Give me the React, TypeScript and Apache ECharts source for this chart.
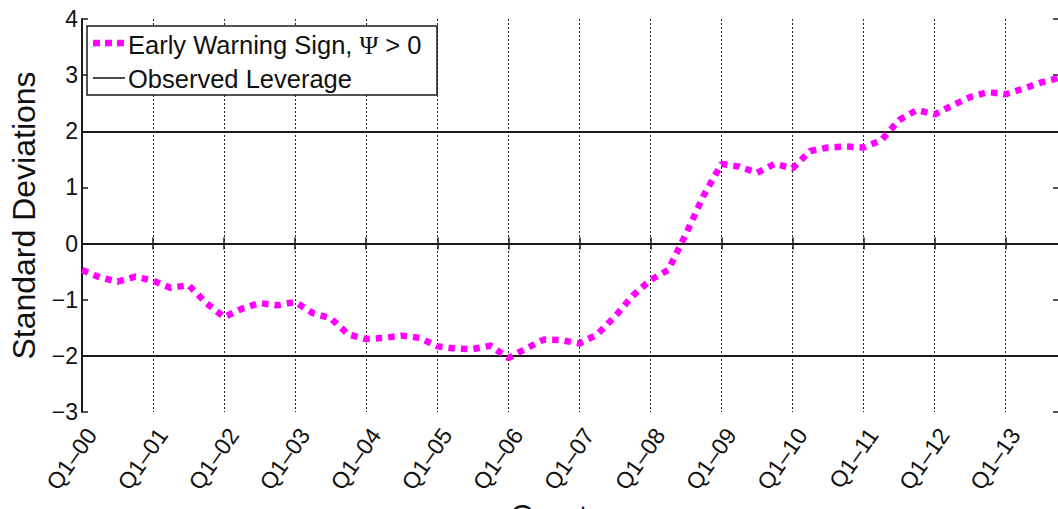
import React, { useEffect, useRef } from "react";
import * as echarts from "echarts";

const years = ["00", "01", "02", "03", "04", "05", "06", "07", "08", "09", "10", "11", "12", "13"];
const quarters: string[] = years.flatMap((y) => ["Q1–" + y, "Q2–" + y, "Q3–" + y, "Q4–" + y]);

const earlyWarning = [
  -0.47, -0.60, -0.68, -0.59, -0.66, -0.79, -0.74, -1.06,
  -1.31, -1.16, -1.06, -1.10, -1.04, -1.24, -1.33, -1.62,
  -1.70, -1.68, -1.64, -1.68, -1.83, -1.87, -1.88, -1.82,
  -2.04, -1.87, -1.71, -1.72, -1.78, -1.62, -1.30, -0.93,
  -0.65, -0.47, 0.17, 0.86, 1.42, 1.37, 1.26, 1.42,
  1.34, 1.65, 1.71, 1.73, 1.71, 1.84, 2.20, 2.38,
  2.30, 2.46, 2.61, 2.70, 2.66, 2.76, 2.87, 2.95,
];

const refLines = [-2, 0, 2];
const legendNames = ["Early Warning Sign, ", "Observed Leverage"];

const FONT = "Liberation Sans, Arial, Helvetica, sans-serif";
const AXIS = "#1a1a1a";

export default function App() {
  const ref = useRef<HTMLDivElement>(null);
  useEffect(() => {
    if (!ref.current) return;
    const chart = echarts.init(ref.current, null, { renderer: "svg" });
    const yLabel = (v: number) => String(v).replace("-", "−");
    chart.setOption({
      animation: false,
      backgroundColor: "#fff",
      grid: { left: 82, right: 41, top: 19, bottom: 97, containLabel: false, outerBoundsMode: "none" },
      xAxis: [
        {
          type: "category",
          data: quarters,
          boundaryGap: false,
          position: "bottom",
          axisLine: { show: true, lineStyle: { color: AXIS, width: 2 } },
          axisTick: { show: true, inside: true, length: 6, interval: 3, lineStyle: { color: AXIS, width: 1.5 } },
          axisLabel: {
            interval: 3,
            rotate: 55,
            margin: 12,
            align: "right",
            verticalAlign: "top",
            fontSize: 23,
            fontFamily: FONT,
            color: "#111",
          },
          splitLine: { show: true, interval: 3, lineStyle: { color: "#222", width: 1, type: [2, 2] } },
          name: "Quarters",
          nameLocation: "middle",
          nameGap: 85,
          nameTextStyle: { fontSize: 31, fontFamily: FONT, color: "#111" },
        },
        {
          type: "category",
          data: quarters,
          boundaryGap: false,
          position: "top",
          axisLine: { show: true, lineStyle: { color: AXIS, width: 2 } },
          axisTick: { show: true, inside: true, length: 6, interval: 3, lineStyle: { color: AXIS, width: 1.5 } },
          axisLabel: { show: false },
          splitLine: { show: false },
        },
      ],
      yAxis: [
        {
          type: "value",
          min: -3,
          max: 4,
          interval: 1,
          position: "left",
          axisLine: { show: true, lineStyle: { color: AXIS, width: 2 } },
          axisTick: { show: true, inside: true, length: 6, lineStyle: { color: AXIS, width: 1.5 } },
          axisLabel: { margin: 4, fontSize: 23, fontFamily: FONT, color: "#111", formatter: yLabel },
          splitLine: { show: false },
          name: "Standard Deviations",
          nameLocation: "middle",
          nameRotate: 90,
          nameGap: 42,
          nameTextStyle: { fontSize: 32, fontFamily: FONT, color: "#111" },
        },
        {
          type: "value",
          min: -3,
          max: 4,
          interval: 1,
          position: "right",
          axisLine: { show: true, lineStyle: { color: AXIS, width: 2 } },
          axisTick: { show: true, inside: true, length: 6, lineStyle: { color: AXIS, width: 1.5 } },
          axisLabel: { show: false },
          splitLine: { show: false },
        },
      ],
      series: [
        {
          name: "Early Warning Sign, Ψ > 0",
          type: "line",
          data: earlyWarning,
          xAxisIndex: 0,
          yAxisIndex: 0,
          symbol: "none",
          z: 3,
          lineStyle: { color: "#ff00ff", width: 6.5, type: [6.5, 6], cap: "butt" },
          markLine: {
            silent: true,
            symbol: "none",
            label: { show: false },
            lineStyle: { color: "#1a1a1a", width: 2, type: "solid" },
            data: refLines.map((v) => ({ yAxis: v })),
            z: 2,
          },
        },
      ],
      graphic: [
        {
          type: "rect",
          z: 10,
          shape: { x: 87, y: 26, width: 350, height: 69 },
          style: { fill: "#fff", stroke: AXIS, lineWidth: 1.5 },
        },
        {
          type: "line",
          z: 11,
          shape: { x1: 93, y1: 43, x2: 125, y2: 43 },
          style: { stroke: "#ff00ff", lineWidth: 6.5, lineDash: [7, 5] },
        },
        {
          type: "line",
          z: 11,
          shape: { x1: 93, y1: 78, x2: 125, y2: 78 },
          style: { stroke: "#111", lineWidth: 1.5 },
        },
        {
          type: "text",
          z: 11,
          x: 128,
          y: 45,
          style: {
            text: "{a|" + legendNames[0] + "}{b|Ψ}{a| > 0}",
            verticalAlign: "middle",
            rich: {
              a: { fontSize: 25.5, fontFamily: FONT, fill: "#111" },
              b: { fontSize: 25.5, fontFamily: "Liberation Serif, serif", fill: "#111" },
            },
          },
        },
        {
          type: "text",
          z: 11,
          x: 128,
          y: 79,
          style: {
            text: legendNames[1],
            verticalAlign: "middle",
            fontSize: 25.5,
            fontFamily: FONT,
            fill: "#111",
          },
        },
      ],
    });
    return () => chart.dispose();
  }, []);
  return (
    <div style={{ position: "absolute", left: 0, top: 0, width: 1058, height: 509, overflow: "hidden", background: "#fff" }}>
      <div ref={ref} style={{ width: 1100, height: 509 }} />
    </div>
  );
}
